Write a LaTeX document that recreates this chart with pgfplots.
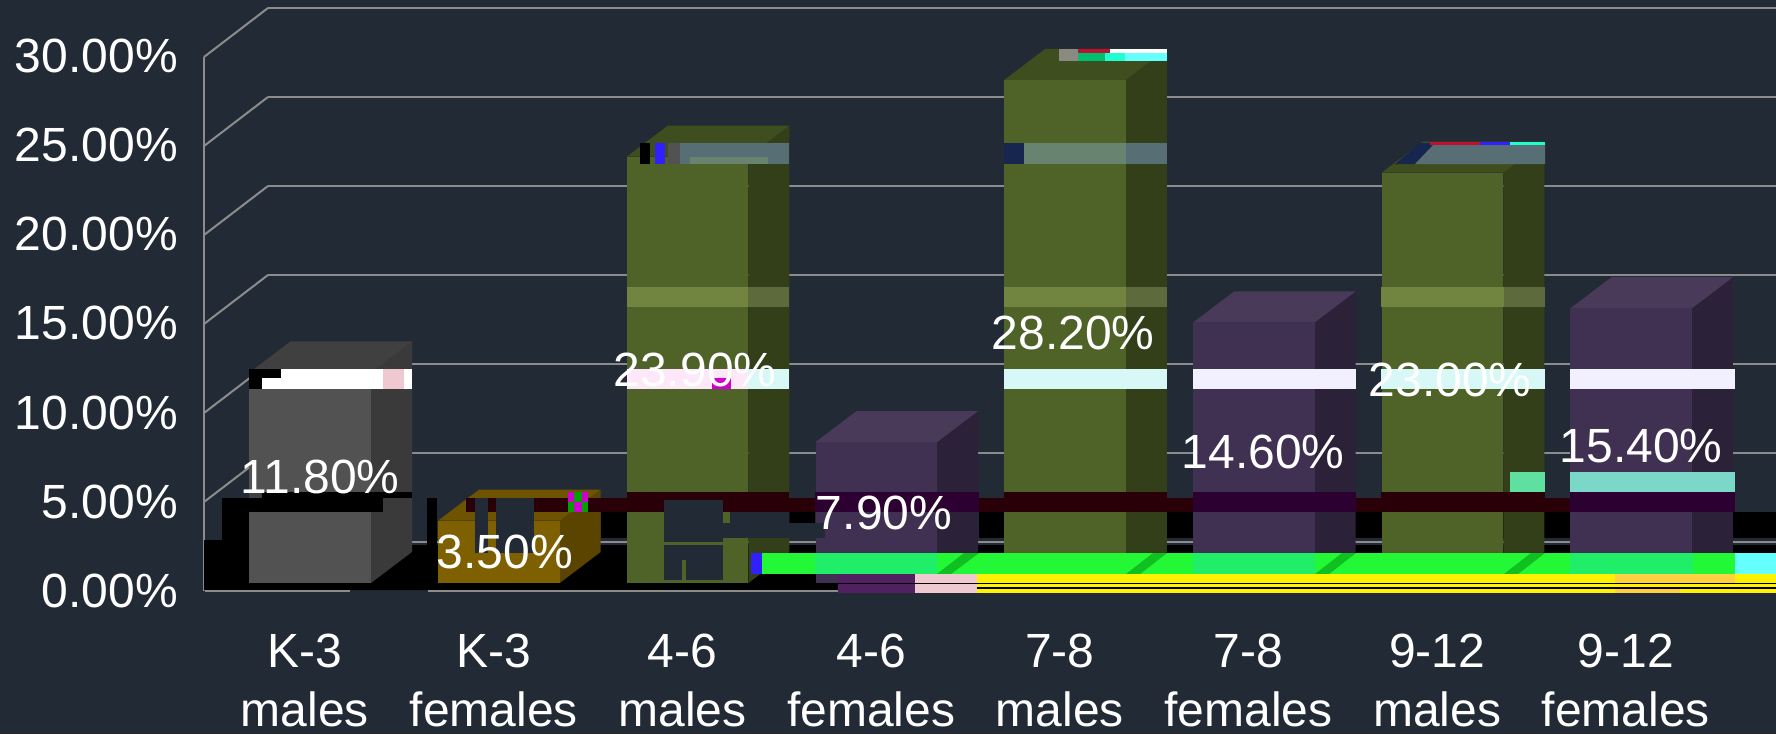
\documentclass[border=0pt]{standalone}
\usepackage{pgfplots}
\pgfplotsset{compat=1.18}
\usepackage{fontspec}
\setmainfont{Liberation Sans}
\definecolor{bgc}{HTML}{222B35}
\definecolor{gridc}{HTML}{8C8C8C}
\definecolor{greyF}{HTML}{525252}\definecolor{greyT}{HTML}{404040}\definecolor{greyS}{HTML}{3A3A3A}
\definecolor{goldF}{HTML}{7F6000}\definecolor{goldT}{HTML}{6E5300}\definecolor{goldS}{HTML}{5A4400}
\definecolor{oliveF}{HTML}{4F6228}\definecolor{oliveT}{HTML}{3F4E1E}\definecolor{oliveS}{HTML}{333F18}
\definecolor{purF}{HTML}{403152}\definecolor{purT}{HTML}{483A58}\definecolor{purS}{HTML}{2B2138}
\definecolor{bandA}{HTML}{D8F8F8}\definecolor{bandB}{HTML}{F2F0FF}\definecolor{bandP}{HTML}{FDE8FA}
\definecolor{sageF}{HTML}{688470}\definecolor{sageS}{HTML}{566E74}\definecolor{navyg}{HTML}{16264F}
\definecolor{lolF}{HTML}{728540}\definecolor{lolS}{HTML}{5C6A3C}
\definecolor{maroon}{HTML}{2A0008}\definecolor{mpur}{HTML}{2C0030}
\definecolor{gA}{HTML}{22F835}\definecolor{gP}{HTML}{20EE68}\definecolor{gD}{HTML}{10C020}
\definecolor{teal1}{HTML}{7BD8C8}\definecolor{teal2}{HTML}{60E0A0}
\definecolor{pink1}{HTML}{F0C8D0}\definecolor{mix1}{HTML}{502060}\definecolor{org1}{HTML}{FFD040}
\definecolor{cyan1}{HTML}{66FFFF}\definecolor{mag1}{HTML}{D000D0}\definecolor{grn1}{HTML}{00A000}
\definecolor{blu1}{HTML}{3020FF}\definecolor{mint}{HTML}{20FFD0}\definecolor{grn2}{HTML}{00C070}
\definecolor{chk}{HTML}{8A8A80}\definecolor{red1}{HTML}{C01030}
\newcommand{\lfont}{\fontsize{48}{59}\selectfont}
% rectangle given in picture pixels, passed through the axis
\newcommand{\rect}[5]{%
 \pgfmathsetmacro\xa{(#2-305)/188.7}\pgfmathsetmacro\xb{(#4-305)/188.7}%
 \pgfmathsetmacro\ya{(583-#3)/17.84}\pgfmathsetmacro\yb{(583-#5)/17.84}%
 \edef\tmp{\noexpand\addplot[fill=#1,draw=none,forget plot] coordinates {(\xa,\ya)(\xb,\ya)(\xb,\yb)(\xa,\yb)} -- cycle;}\tmp}
\newcommand{\quadp}[9]{%
 \pgfmathsetmacro\xa{(#2-305)/188.7}\pgfmathsetmacro\xb{(#4-305)/188.7}%
 \pgfmathsetmacro\xc{(#6-305)/188.7}\pgfmathsetmacro\xd{(#8-305)/188.7}%
 \pgfmathsetmacro\ya{(583-#3)/17.84}\pgfmathsetmacro\yb{(583-#5)/17.84}%
 \pgfmathsetmacro\yc{(583-#7)/17.84}\pgfmathsetmacro\yd{(583-#9)/17.84}%
 \edef\tmp{\noexpand\addplot[fill=#1,draw=none,forget plot] coordinates {(\xa,\ya)(\xb,\yb)(\xc,\yc)(\xd,\yd)} -- cycle;}\tmp}
\newcommand{\gline}[4]{%
 \pgfmathsetmacro\xa{(#1-305)/188.7}\pgfmathsetmacro\xb{(#3-305)/188.7}%
 \pgfmathsetmacro\ya{(583-#2)/17.84}\pgfmathsetmacro\yb{(583-#4)/17.84}%
 \edef\tmp{\noexpand\addplot[draw=gridc,line width=2pt,forget plot] coordinates {(\xa,\ya)(\xb,\yb)};}\tmp}
% 3-D bar: index, value, front, top, side colours
\newcommand{\barthree}[5]{%
 \pgfmathsetmacro\xa{#1-0.2941}\pgfmathsetmacro\xb{#1+0.3498}\pgfmathsetmacro\xc{\xb+0.2173}\pgfmathsetmacro\xd{\xa+0.2173}%
 \pgfmathsetmacro\yt{#2+1.74}%
 \edef\tmp{\noexpand\addplot[fill=#5,draw=none,forget plot] coordinates {(\xb,0)(\xc,1.74)(\xc,\yt)(\xb,#2)} -- cycle;
 \noexpand\addplot[fill=#4,draw=none,forget plot] coordinates {(\xa,#2)(\xd,\yt)(\xc,\yt)(\xb,#2)} -- cycle;
 \noexpand\addplot[fill=#3,draw=none,forget plot] coordinates {(\xa,0)(\xa,#2)(\xb,#2)(\xb,0)} -- cycle;}\tmp}
\def\labnode(#1)#2{\node[text=white,font=\lfont,inner sep=0pt,anchor=center] at (#1) {#2};}
\newcommand{\lab}[3]{%
 \pgfmathsetmacro\xa{(#1-305)/188.7}\pgfmathsetmacro\ya{(583-#2)/17.84}%
 \edef\tmp{\noexpand\labnode(axis cs:\xa,\ya)}\tmp{#3}}
\begin{document}
\begin{tikzpicture}[x=1pt,y=1pt]
\fill[bgc] (-190,-134) rectangle (1586,600);
\useasboundingbox (-190,-134) rectangle (1586,600);
\begin{axis}[at={(0,0)},anchor=south west,scale only axis,width=1586pt,height=600pt,
 xmin=-0.6094,xmax=7.7954,ymin=-0.953,ymax=32.68,
 axis line style={draw=none},major tick length=0pt,
 xtick={0,1,2,3,4,5,6,7},
 xticklabels={{K-3\\males},{K-3\\females},{4-6\\males},{4-6\\females},{7-8\\males},{7-8\\females},{9-12\\males},{9-12\\females}},
 ytick={0,5,10,15,20,25,30},
 yticklabels={0.00\%,5.00\%,10.00\%,15.00\%,20.00\%,25.00\%,30.00\%},
 x tick label style={font=\lfont,text=white,align=center,inner sep=0pt,yshift=-34pt},
 y tick label style={font=\lfont,text=white,inner sep=0pt,xshift=-12pt,yshift=-8pt},
 clip=true]
% walls
\gline{204}{57}{204}{591}
\gline{204}{57}{268}{8}\gline{268}{8}{1776}{8}
\gline{204}{146}{268}{97}\gline{268}{97}{1776}{97}
\gline{204}{235}{268}{186}\gline{268}{186}{1776}{186}
\gline{204}{324}{268}{275}\gline{268}{275}{1776}{275}
\gline{204}{413}{268}{364}\gline{268}{364}{1776}{364}
\gline{204}{502}{268}{453}\gline{268}{453}{1776}{453}
\gline{268}{542}{1776}{542}
% black floor and blocks behind the bars
\quadp{black}{204}{590}{268}{545}{1776}{545}{1776}{590}
\rect{black}{222}{498}{250}{540}
\rect{black}{204}{540}{250}{590}
\rect{black}{427}{498}{437}{590}
\rect{black}{601}{512}{627}{538}
\rect{black}{789}{512}{815}{523}
\rect{black}{979}{512}{1776}{538}
\gline{205}{591}{350}{591}\gline{428}{591}{838}{591}
% bars
\barthree{0}{11.8}{greyF}{greyT}{greyS}
\barthree{1}{3.5}{goldF}{goldT}{goldS}
\barthree{2}{23.9}{oliveF}{oliveT}{oliveS}
\barthree{3}{7.9}{purF}{purT}{purS}
\barthree{4}{28.2}{oliveF}{oliveT}{oliveS}
\barthree{5}{14.6}{purF}{purT}{purS}
\barthree{6}{23.0}{oliveF}{oliveT}{oliveS}
\barthree{7}{15.4}{purF}{purT}{purS}
% corrupted bands of the reference: top rows
\rect{chk}{1059}{49}{1078}{61}
\rect{white}{1110}{49}{1167}{53}\rect{red1}{1078}{49}{1110}{53}
\rect{grn2}{1078}{53}{1105}{61}\rect{mint}{1105}{53}{1125}{61}\rect{cyan1}{1125}{53}{1167}{61}
\rect{black}{640}{143}{650}{164}\rect{blu1}{655}{143}{665}{164}\rect{greyF}{668}{143}{680}{164}
\rect{sageS}{680}{143}{789}{164}\rect{sageF}{690}{157}{768}{164}
\rect{navyg}{1004}{143}{1024}{164}\rect{sageF}{1024}{143}{1126}{164}\rect{sageS}{1126}{143}{1167}{164}
\quadp{navyg}{1395}{164}{1420}{143}{1435}{143}{1415}{164}
\quadp{sageS}{1415}{164}{1435}{143}{1545}{143}{1545}{164}
\rect{red1}{1430}{142}{1480}{145}\rect{blu1}{1480}{142}{1510}{145}\rect{mint}{1510}{142}{1545}{145}
\rect{lolF}{627}{287}{748}{307}\rect{lolS}{748}{287}{789}{307}
\rect{lolF}{1004}{287}{1126}{307}\rect{lolS}{1126}{287}{1167}{307}
\rect{lolF}{1381}{287}{1504}{307}\rect{lolS}{1504}{287}{1545}{307}
% bright band
\rect{black}{249}{369}{262}{389}\rect{white}{262}{369}{412}{389}\rect{black}{262}{369}{281}{378}\rect{pink1}{383}{369}{404}{389}
\rect{bandP}{627}{369}{748}{389}\rect{bandA}{748}{369}{789}{389}\rect{mag1}{712}{378}{731}{389}
\rect{bandA}{1004}{369}{1167}{389}\rect{bandB}{1193}{369}{1356}{389}
\rect{bandA}{1381}{369}{1545}{389}\rect{bandB}{1570}{369}{1735}{389}
% teal band
\rect{teal1}{1570}{472}{1735}{492}\rect{teal2}{1510}{472}{1545}{492}
% dark band
\rect{black}{249}{492}{262}{512}\rect{greyT}{249}{492}{262}{498}
\rect{black}{262}{492}{383}{512}\rect{black}{383}{492}{412}{498}
\rect{maroon}{466}{498}{1735}{512}
\rect{maroon}{627}{492}{789}{512}\rect{mpur}{815}{492}{979}{512}\rect{maroon}{1004}{492}{1167}{512}
\rect{mpur}{1193}{492}{1356}{512}\rect{maroon}{1381}{492}{1545}{512}\rect{mpur}{1570}{492}{1735}{512}
\rect{grn1}{568}{492}{588}{512}\rect{mag1}{568}{492}{574}{502}\rect{mag1}{582}{492}{588}{502}\rect{mag1}{574}{502}{582}{512}
% background coloured holes
\rect{bgc}{475}{498}{488}{553}\rect{bgc}{496}{498}{534}{553}
\rect{bgc}{664}{500}{723}{580}\rect{bgc}{723}{523}{825}{538}
\rect{bgc}{730}{512}{789}{523}
\rect{oliveF}{682}{560}{686}{580}\rect{oliveF}{664}{542}{723}{545}
% green band
\rect{gA}{751}{553}{1735}{574}\rect{blu1}{751}{553}{762}{574}\rect{cyan1}{1735}{553}{1776}{574}
\rect{gP}{815}{553}{937}{574}\rect{gP}{1193}{553}{1315}{574}\rect{gP}{1570}{553}{1693}{574}
\quadp{gD}{937}{574}{964}{553}{979}{553}{951}{574}
\quadp{gD}{1126}{574}{1153}{553}{1167}{553}{1140}{574}
\quadp{gD}{1315}{574}{1342}{553}{1356}{553}{1329}{574}
\quadp{gD}{1504}{574}{1531}{553}{1545}{553}{1518}{574}
% yellow rows
\rect{yellow}{977}{574}{1776}{583}\rect{yellow}{977}{584}{1776}{587}\rect{yellow}{977}{589}{1776}{593}
\rect{mix1}{838}{574}{915}{583}\rect{pink1}{915}{574}{977}{583}
\rect{mix1}{838}{584}{915}{593}\rect{pink1}{915}{584}{977}{593}
\rect{org1}{1615}{574}{1735}{583}\rect{org1}{1615}{589}{1680}{593}
% value labels
\lab{320}{477}{11.80\%}
\lab{505}{552}{3.50\%}
\lab{695}{370}{23.90\%}
\lab{884}{513}{7.90\%}
\lab{1073}{333}{28.20\%}
\lab{1263}{452}{14.60\%}
\lab{1450}{380}{23.00\%}
\lab{1641}{446}{15.40\%}
\end{axis}
\end{tikzpicture}
\end{document}
